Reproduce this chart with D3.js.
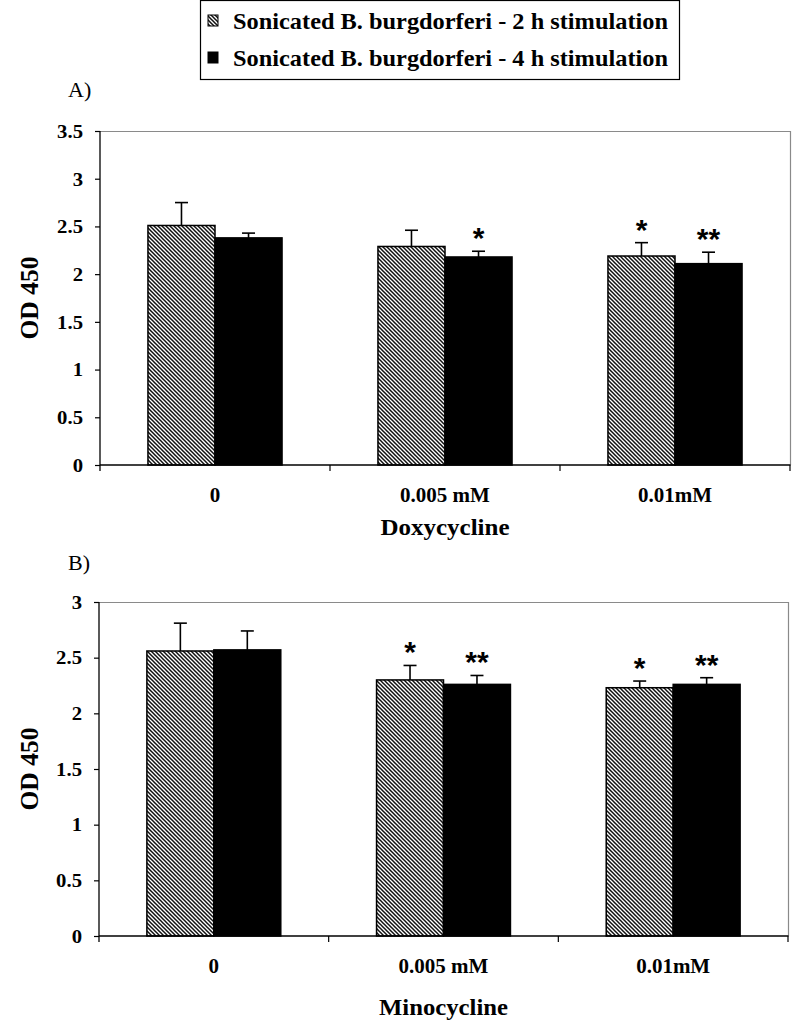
<!DOCTYPE html>
<html>
<head>
<meta charset="utf-8">
<script src="https://cdn.jsdelivr.net/npm/d3@7"></script>
<style>
  html, body { margin: 0; padding: 0; background: #fff; }
  svg { display: block; }
  text { font-family: "Liberation Serif", "Times New Roman", serif; fill: #000; }
</style>
</head>
<body>
<svg id="chart" width="800" height="1034"></svg>
<script>
// ---------- data ----------
const categories = ["0", "0.005 mM", "0.01mM"];
const seriesNames = [
  "Sonicated B. burgdorferi - 2 h stimulation",
  "Sonicated B. burgdorferi - 4 h stimulation"
];
// Panel A – Doxycycline
const doxy2h = [2.51, 2.29, 2.19];
const doxy2hErr = [0.24, 0.17, 0.14];
const doxy4h = [2.38, 2.18, 2.11];
const doxy4hErr = [0.05, 0.06, 0.12];
const doxy2hSig = ["", "", "*"];
const doxy4hSig = ["", "*", "**"];
// Panel B – Minocycline
const mino2h = [2.56, 2.30, 2.23];
const mino2hErr = [0.25, 0.13, 0.06];
const mino4h = [2.57, 2.26, 2.26];
const mino4hErr = [0.17, 0.08, 0.06];
const mino2hSig = ["", "*", "*"];
const mino4hSig = ["", "**", "**"];
// tick values
const ticksA = [0, 0.5, 1, 1.5, 2, 2.5, 3, 3.5];
const ticksB = [0, 0.5, 1, 1.5, 2, 2.5, 3];

const svg = d3.select("#chart");

function stretch(sel, f) {
  sel.each(function () {
    const w = this.getComputedTextLength();
    this.setAttribute("textLength", w * f);
    this.setAttribute("lengthAdjust", "spacingAndGlyphs");
  });
}
function fitWidth(sel, w) {
  sel.attr("textLength", w).attr("lengthAdjust", "spacingAndGlyphs");
}

// hatch pattern
const defs = svg.append("defs");
const pat = defs.append("pattern")
  .attr("id", "hatch").attr("patternUnits", "userSpaceOnUse")
  .attr("width", 4).attr("height", 4);
pat.append("rect").attr("width", 4).attr("height", 4).attr("fill", "#fff");
pat.append("path")
  .attr("d", "M-1,-1 L5,5 M-1,3 L1,5 M3,-1 L5,1")
  .attr("stroke", "#111").attr("stroke-width", 1.5);

const fills = ["url(#hatch)", "#000"];

// ---------- legend ----------
const leg = svg.append("g");
leg.append("rect").attr("x", 200.5).attr("y", 0.5).attr("width", 479).attr("height", 79)
  .attr("fill", "#fff").attr("stroke", "#000").attr("stroke-width", 1.2);
const legRowY = [29, 66];
seriesNames.forEach((name, i) => {
  leg.append("rect").attr("x", 208).attr("y", legRowY[i] - 14).attr("width", 10).attr("height", 11)
    .attr("fill", fills[i]).attr("stroke", "#000").attr("stroke-width", 1);
  leg.append("text").attr("x", 233).attr("y", legRowY[i])
    .attr("font-size", 23).attr("font-weight", "bold").text(name)
    .call(fitWidth, 435);
});

// ---------- panel builder ----------
function panel(cfg) {
  const g = svg.append("g");
  const y = d3.scaleLinear().domain([0, cfg.yMax]).range([cfg.bottom, cfg.top]);
  const x0 = d3.scaleBand().domain(categories).range([cfg.left, cfg.right])
    .paddingInner(0.417).paddingOuter(0.2085);
  const x1 = d3.scaleBand().domain([0, 1]).range([0, x0.bandwidth()]).padding(0);

  // frame (top & right gray)
  g.append("path")
    .attr("d", `M${cfg.left},${cfg.top + 0.5} H${cfg.right + 0.5} V${cfg.bottom}`)
    .attr("fill", "none").attr("stroke", "#8a8a8a").attr("stroke-width", 1.2);

  const series = [
    { v: cfg.s1, e: cfg.e1, sig: cfg.sig1 },
    { v: cfg.s2, e: cfg.e2, sig: cfg.sig2 }
  ];

  series.forEach((s, si) => {
    categories.forEach((c, ci) => {
      const bx = x0(c) + x1(si);
      const bw = x1.bandwidth();
      g.append("rect")
        .attr("x", bx).attr("y", y(s.v[ci]))
        .attr("width", bw).attr("height", y(0) - y(s.v[ci]))
        .attr("fill", fills[si]).attr("stroke", "#000").attr("stroke-width", 1.5);
      const cx = bx + bw / 2;
      const yt = y(s.v[ci] + s.e[ci]);
      g.append("line").attr("x1", cx).attr("x2", cx)
        .attr("y1", y(s.v[ci])).attr("y2", yt)
        .attr("stroke", "#000").attr("stroke-width", 1.6);
      g.append("line").attr("x1", cx - 6.5).attr("x2", cx + 6.5)
        .attr("y1", yt).attr("y2", yt)
        .attr("stroke", "#000").attr("stroke-width", 1.6);
      if (s.sig[ci]) {
        g.append("text").attr("x", cx).attr("y", yt - 3)
          .attr("text-anchor", "middle")
          .style("font-family", "'Liberation Sans', Arial, sans-serif")
          .attr("font-size", 30).attr("font-weight", "bold")
          .text(s.sig[ci]);
      }
    });
  });

  // y axis
  const yAxis = d3.axisLeft(y).tickValues(cfg.ticks).tickFormat(d3.format("")).tickSize(5).tickPadding(12);
  const ya = g.append("g").attr("transform", `translate(${cfg.left},0)`).call(yAxis);
  ya.select(".domain").attr("stroke", "#000").attr("stroke-width", 1.3)
    .attr("d", `M0,${cfg.top}V${cfg.bottom + 6}`);
  ya.selectAll(".tick line").attr("stroke", "#000").attr("stroke-width", 1.2);
  ya.selectAll(".tick text")
    .attr("font-family", "'Liberation Serif', 'Times New Roman', serif")
    .attr("font-size", 18).attr("font-weight", "bold").attr("fill", "#000")
    .attr("dy", "0.35em")
    .call(stretch, 1.15);

  // x axis
  const xa = g.append("g");
  xa.append("line").attr("x1", cfg.left).attr("x2", cfg.right + 0.5)
    .attr("y1", cfg.bottom).attr("y2", cfg.bottom)
    .attr("stroke", "#000").attr("stroke-width", 1.3);
  const bounds = categories.map(c => x0(c) + x0.bandwidth() / 2 + x0.step() / 2);
  bounds.forEach(bx => {
    xa.append("line").attr("x1", bx).attr("x2", bx)
      .attr("y1", cfg.bottom).attr("y2", cfg.bottom + 6)
      .attr("stroke", "#000").attr("stroke-width", 1.2);
  });
  categories.forEach(c => {
    xa.append("text").attr("x", x0(c) + x0.bandwidth() / 2).attr("y", cfg.bottom + 37)
      .attr("text-anchor", "middle").attr("font-size", 21).attr("font-weight", "bold")
      .text(c);
  });

  // x title
  g.append("text").attr("x", (cfg.left + cfg.right) / 2).attr("y", cfg.bottom + cfg.xTitleDy)
    .attr("text-anchor", "middle").attr("font-size", 23).attr("font-weight", "bold")
    .text(cfg.xTitle).call(fitWidth, 129);

  // y title
  g.append("text")
    .attr("transform", `translate(38,${(cfg.top + cfg.bottom) / 2}) rotate(-90)`)
    .attr("text-anchor", "middle").attr("font-size", 25).attr("font-weight", "bold")
    .text("OD 450").call(fitWidth, 83);

  // panel label
  g.append("text").attr("x", 68).attr("y", cfg.labelY)
    .attr("font-size", 22).text(cfg.label);
}

panel({
  top: 131, bottom: 465, left: 100, right: 790, yMax: 3.5, ticks: ticksA,
  s1: doxy2h, e1: doxy2hErr, s2: doxy4h, e2: doxy4hErr, sig1: doxy2hSig, sig2: doxy4hSig,
  xTitle: "Doxycycline", xTitleDy: 70, label: "A)", labelY: 97
});
panel({
  top: 602, bottom: 936, left: 99, right: 788, yMax: 3, ticks: ticksB,
  s1: mino2h, e1: mino2hErr, s2: mino4h, e2: mino4hErr, sig1: mino2hSig, sig2: mino4hSig,
  xTitle: "Minocycline", xTitleDy: 79, label: "B)", labelY: 570
});
</script>
</body>
</html>
